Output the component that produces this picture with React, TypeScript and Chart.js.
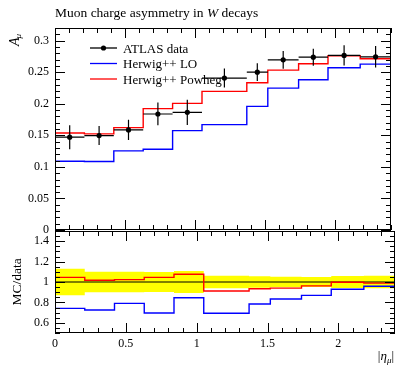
import React, { useEffect, useRef } from "react";
import { Chart, registerables } from "chart.js";
Chart.register(...registerables);

// ---- data ----
const binEdges = [0, 0.21, 0.42, 0.63, 0.84, 1.05, 1.37, 1.52, 1.74, 1.95, 2.18, 2.4];
const atlasValues = [0.147, 0.1496, 0.1585, 0.1838, 0.1864, 0.2407, 0.25, 0.2696, 0.2738, 0.2765, 0.2743];
const atlasErrors = [0.019, 0.015, 0.016, 0.018, 0.02, 0.015, 0.014, 0.014, 0.0135, 0.016, 0.017];
const herwigLO = [0.109, 0.1085, 0.1253, 0.128, 0.1575, 0.167, 0.1959, 0.2248, 0.238, 0.257, 0.2627];
const herwigPowheg = [0.1537, 0.1522, 0.1622, 0.1922, 0.2006, 0.2196, 0.2333, 0.2533, 0.2633, 0.276, 0.2712];
const mainYTicks = [0, 0.05, 0.1, 0.15, 0.2, 0.25, 0.3];
const ratioYTicks = [0.6, 0.8, 1, 1.2, 1.4];
const xTicks = [0, 0.5, 1, 1.5, 2];
const legendLabels = ["ATLAS data", "Herwig++ LO", "Herwig++ Powheg"];

const SERIF = "'Liberation Serif', 'Times New Roman', serif";
const RED = "#ff0000";
const BLUE = "#0000ff";
const YELLOW = "#ffff00";

function fmt(v: number) {
  return String(parseFloat(Number(v).toFixed(2)));
}

function stepPoints(values: number[]) {
  return binEdges.map((e, i) => ({ x: e, y: values[Math.min(i, values.length - 1)] }));
}

const ratioLO = herwigLO.map((v, i) => v / atlasValues[i]);
const ratioPowheg = herwigPowheg.map((v, i) => v / atlasValues[i]);
const bandUp = atlasErrors.map((e, i) => 1 + e / atlasValues[i]);
const bandDown = atlasErrors.map((e, i) => 1 - e / atlasValues[i]);

function makeFramePlugin(yMin: number, yMax: number, yStepDiv: number, majorEvery: number) {
  return {
    id: "frameTicks",
    afterDatasetsDraw(chart: any) {
      const { ctx, chartArea: a, scales } = chart;
      const xs = scales.x;
      const ys = scales.y;
      ctx.save();
      ctx.strokeStyle = "#000";
      ctx.lineWidth = 1;
      ctx.beginPath();
      for (let i = 0; i <= 24; i++) {
        const v = i / 10;
        const len = i % 5 === 0 ? 10 : 5;
        const px = Math.round(xs.getPixelForValue(v)) + 0.5;
        ctx.moveTo(px, a.top);
        ctx.lineTo(px, a.top + len);
        ctx.moveTo(px, a.bottom);
        ctx.lineTo(px, a.bottom - len);
      }
      const i0 = Math.round(yMin * yStepDiv);
      const i1 = Math.round(yMax * yStepDiv);
      for (let i = i0; i <= i1; i++) {
        const v = i / yStepDiv;
        const len = i % majorEvery === 0 ? 10 : 5;
        const py = Math.round(ys.getPixelForValue(v)) + 0.5;
        ctx.moveTo(a.left, py);
        ctx.lineTo(a.left + len, py);
        ctx.moveTo(a.right, py);
        ctx.lineTo(a.right - len, py);
      }
      ctx.stroke();
      ctx.strokeRect(a.left + 0.5, a.top + 0.5, a.right - a.left - 1, a.bottom - a.top - 1);
      ctx.restore();
    },
  };
}

const errorBarPlugin = {
  id: "errorBars",
  afterDatasetsDraw(chart: any) {
    const { ctx, scales } = chart;
    const xs = scales.x;
    const ys = scales.y;
    ctx.save();
    ctx.strokeStyle = "#000";
    ctx.lineWidth = 1.2;
    ctx.beginPath();
    atlasValues.forEach((v, i) => {
      const xl = xs.getPixelForValue(binEdges[i]);
      const xr = xs.getPixelForValue(binEdges[i + 1]);
      const xc = xs.getPixelForValue((binEdges[i] + binEdges[i + 1]) / 2);
      const yc = ys.getPixelForValue(v);
      ctx.moveTo(xl, yc);
      ctx.lineTo(xr, yc);
      ctx.moveTo(xc, ys.getPixelForValue(v - atlasErrors[i]));
      ctx.lineTo(xc, ys.getPixelForValue(v + atlasErrors[i]));
    });
    ctx.stroke();
    ctx.restore();
  },
};

const topTextPlugin = {
  id: "topText",
  afterDraw(chart: any) {
    const { ctx, chartArea: a } = chart;
    ctx.save();
    ctx.fillStyle = "#000";
    ctx.textBaseline = "alphabetic";
    ctx.textAlign = "left";
    // title
    const f = `13.5px ${SERIF}`;
    const fi = `italic 13.5px ${SERIF}`;
    let x = a.left;
    const ty = 17;
    const parts: [string, string][] = [
      ["Muon charge asymmetry in ", f],
      ["W", fi],
      [" decays", f],
    ];
    parts.forEach(([t, font]) => {
      ctx.font = font;
      ctx.fillText(t, x, ty);
      x += ctx.measureText(t).width;
    });
    // y label
    ctx.save();
    ctx.translate(19, 46);
    ctx.rotate(-Math.PI / 2);
    ctx.font = `italic 14px ${SERIF}`;
    ctx.fillText("A", 0, 0);
    const wA = ctx.measureText("A").width;
    ctx.font = `italic 9px ${SERIF}`;
    ctx.fillText("μ", wA - 1, 2);
    ctx.restore();
    // legend
    const colors = ["#000", BLUE, RED];
    const lx0 = a.left + 35;
    const lx1 = a.left + 62;
    const tx = a.left + 68;
    const ys0 = [48, 63.5, 79];
    ctx.font = `13px ${SERIF}`;
    legendLabels.forEach((lab, i) => {
      const y = ys0[i];
      ctx.strokeStyle = colors[i];
      ctx.lineWidth = 1.3;
      ctx.beginPath();
      ctx.moveTo(lx0, y);
      ctx.lineTo(lx1, y);
      ctx.stroke();
      if (i === 0) {
        ctx.beginPath();
        ctx.arc((lx0 + lx1) / 2, y, 2.6, 0, Math.PI * 2);
        ctx.fillStyle = "#000";
        ctx.fill();
      }
      ctx.fillStyle = "#000";
      ctx.fillText(lab, tx, y + 4.5);
    });
    ctx.restore();
  },
};

const bottomTextPlugin = {
  id: "bottomText",
  afterDraw(chart: any) {
    const { ctx, chartArea: a } = chart;
    ctx.save();
    ctx.fillStyle = "#000";
    // MC/data
    ctx.save();
    ctx.translate(21, (a.top + a.bottom) / 2);
    ctx.rotate(-Math.PI / 2);
    ctx.textAlign = "center";
    ctx.textBaseline = "alphabetic";
    ctx.font = `13.5px ${SERIF}`;
    ctx.fillText("MC/data", 0, 0);
    ctx.restore();
    // |eta_mu|
    const pieces: [string, string, number][] = [
      ["|", `13px ${SERIF}`, 0],
      ["η", `italic 13px ${SERIF}`, 0],
      ["μ", `italic 9px ${SERIF}`, 2.5],
      ["|", `13px ${SERIF}`, 0],
    ];
    let total = 0;
    pieces.forEach(([t, font]) => {
      ctx.font = font;
      total += ctx.measureText(t).width;
    });
    let x = a.right - 1 - total;
    const by = 360;
    ctx.textAlign = "left";
    pieces.forEach(([t, font, dy]) => {
      ctx.font = font;
      ctx.fillText(t, x, by + dy);
      x += ctx.measureText(t).width;
    });
    ctx.restore();
  },
};

export default function App() {
  const topRef = useRef<HTMLCanvasElement>(null);
  const botRef = useRef<HTMLCanvasElement>(null);

  useEffect(() => {
    const tickFont = { family: SERIF, size: 12 };
    const top = new Chart(topRef.current as HTMLCanvasElement, {
      type: "line",
      data: {
        datasets: [
          {
            label: legendLabels[0],
            data: atlasValues.map((v, i) => ({ x: (binEdges[i] + binEdges[i + 1]) / 2, y: v })),
            showLine: false,
            pointRadius: 2.6,
            pointBackgroundColor: "#000",
            pointBorderWidth: 0,
            order: 0,
          },
          {
            label: legendLabels[2],
            data: stepPoints(herwigPowheg),
            stepped: true,
            borderColor: RED,
            borderWidth: 1.4,
            pointRadius: 0,
            fill: false,
            order: 1,
          },
          {
            label: legendLabels[1],
            data: stepPoints(herwigLO),
            stepped: true,
            borderColor: BLUE,
            borderWidth: 1.4,
            pointRadius: 0,
            fill: false,
            order: 2,
          },
        ],
      },
      options: {
        responsive: false,
        animation: false,
        events: [],
        layout: { padding: { top: 28, bottom: 135, left: 0, right: 0 } },
        plugins: { legend: { display: false }, tooltip: { enabled: false }, title: { display: false } },
        scales: {
          x: { type: "linear", min: 0, max: 2.4, display: false },
          y: {
            type: "linear",
            min: 0,
            max: 0.32,
            afterBuildTicks: (s: any) => {
              s.ticks = mainYTicks.map((v) => ({ value: v }));
            },
            afterFit: (s: any) => {
              s.width = 55;
            },
            grid: { display: false, drawTicks: false },
            border: { display: false },
            ticks: { font: tickFont, color: "#000", padding: 6, callback: (v: any) => fmt(v) },
          },
        },
      },
      plugins: [makeFramePlugin(0, 0.32, 100, 5), errorBarPlugin, topTextPlugin],
    } as any);

    const bot = new Chart(botRef.current as HTMLCanvasElement, {
      type: "line",
      data: {
        datasets: [
          {
            label: "band up",
            data: stepPoints(bandUp),
            stepped: true,
            borderWidth: 0,
            pointRadius: 0,
            fill: false,
            order: 10,
          },
          {
            label: "band down",
            data: stepPoints(bandDown),
            stepped: true,
            borderWidth: 0,
            pointRadius: 0,
            backgroundColor: YELLOW,
            fill: "-1",
            order: 9,
          },
          {
            label: "unity",
            data: [
              { x: binEdges[0], y: 1 },
              { x: binEdges[binEdges.length - 1], y: 1 },
            ],
            borderColor: "#000",
            borderWidth: 1.2,
            pointRadius: 0,
            fill: false,
            order: 3,
          },
          {
            label: legendLabels[1],
            data: stepPoints(ratioLO),
            stepped: true,
            borderColor: BLUE,
            borderWidth: 1.4,
            pointRadius: 0,
            fill: false,
            order: 2,
          },
          {
            label: legendLabels[2],
            data: stepPoints(ratioPowheg),
            stepped: true,
            borderColor: RED,
            borderWidth: 1.4,
            pointRadius: 0,
            fill: false,
            order: 1,
          },
        ],
      },
      options: {
        responsive: false,
        animation: false,
        events: [],
        layout: { padding: { top: 231, bottom: 0, left: 0, right: 0 } },
        plugins: { legend: { display: false }, tooltip: { enabled: false }, title: { display: false } },
        scales: {
          x: {
            type: "linear",
            min: 0,
            max: 2.4,
            afterBuildTicks: (s: any) => {
              s.ticks = xTicks.map((v) => ({ value: v }));
            },
            afterFit: (s: any) => {
              s.height = 32;
            },
            grid: { display: false, drawTicks: false },
            border: { display: false },
            ticks: { font: tickFont, color: "#000", padding: 4, maxRotation: 0, autoSkip: false, callback: (v: any) => fmt(v) },
          },
          y: {
            type: "linear",
            min: 0.5,
            max: 1.5,
            afterBuildTicks: (s: any) => {
              s.ticks = ratioYTicks.map((v) => ({ value: v }));
            },
            afterFit: (s: any) => {
              s.width = 55;
            },
            grid: { display: false, drawTicks: false },
            border: { display: false },
            ticks: { font: tickFont, color: "#000", padding: 6, callback: (v: any) => fmt(v) },
          },
        },
      },
      plugins: [makeFramePlugin(0.5, 1.5, 20, 4), bottomTextPlugin],
    } as any);

    return () => {
      top.destroy();
      bot.destroy();
    };
  }, []);

  const style: React.CSSProperties = { position: "absolute", left: 0, top: 0, width: 395, height: 365 };
  return (
    <div style={{ position: "absolute", left: 0, top: 0, width: 395, height: 365, background: "#fff" }}>
      <canvas ref={topRef} width={395} height={365} style={style} />
      <canvas ref={botRef} width={395} height={365} style={style} />
    </div>
  );
}
